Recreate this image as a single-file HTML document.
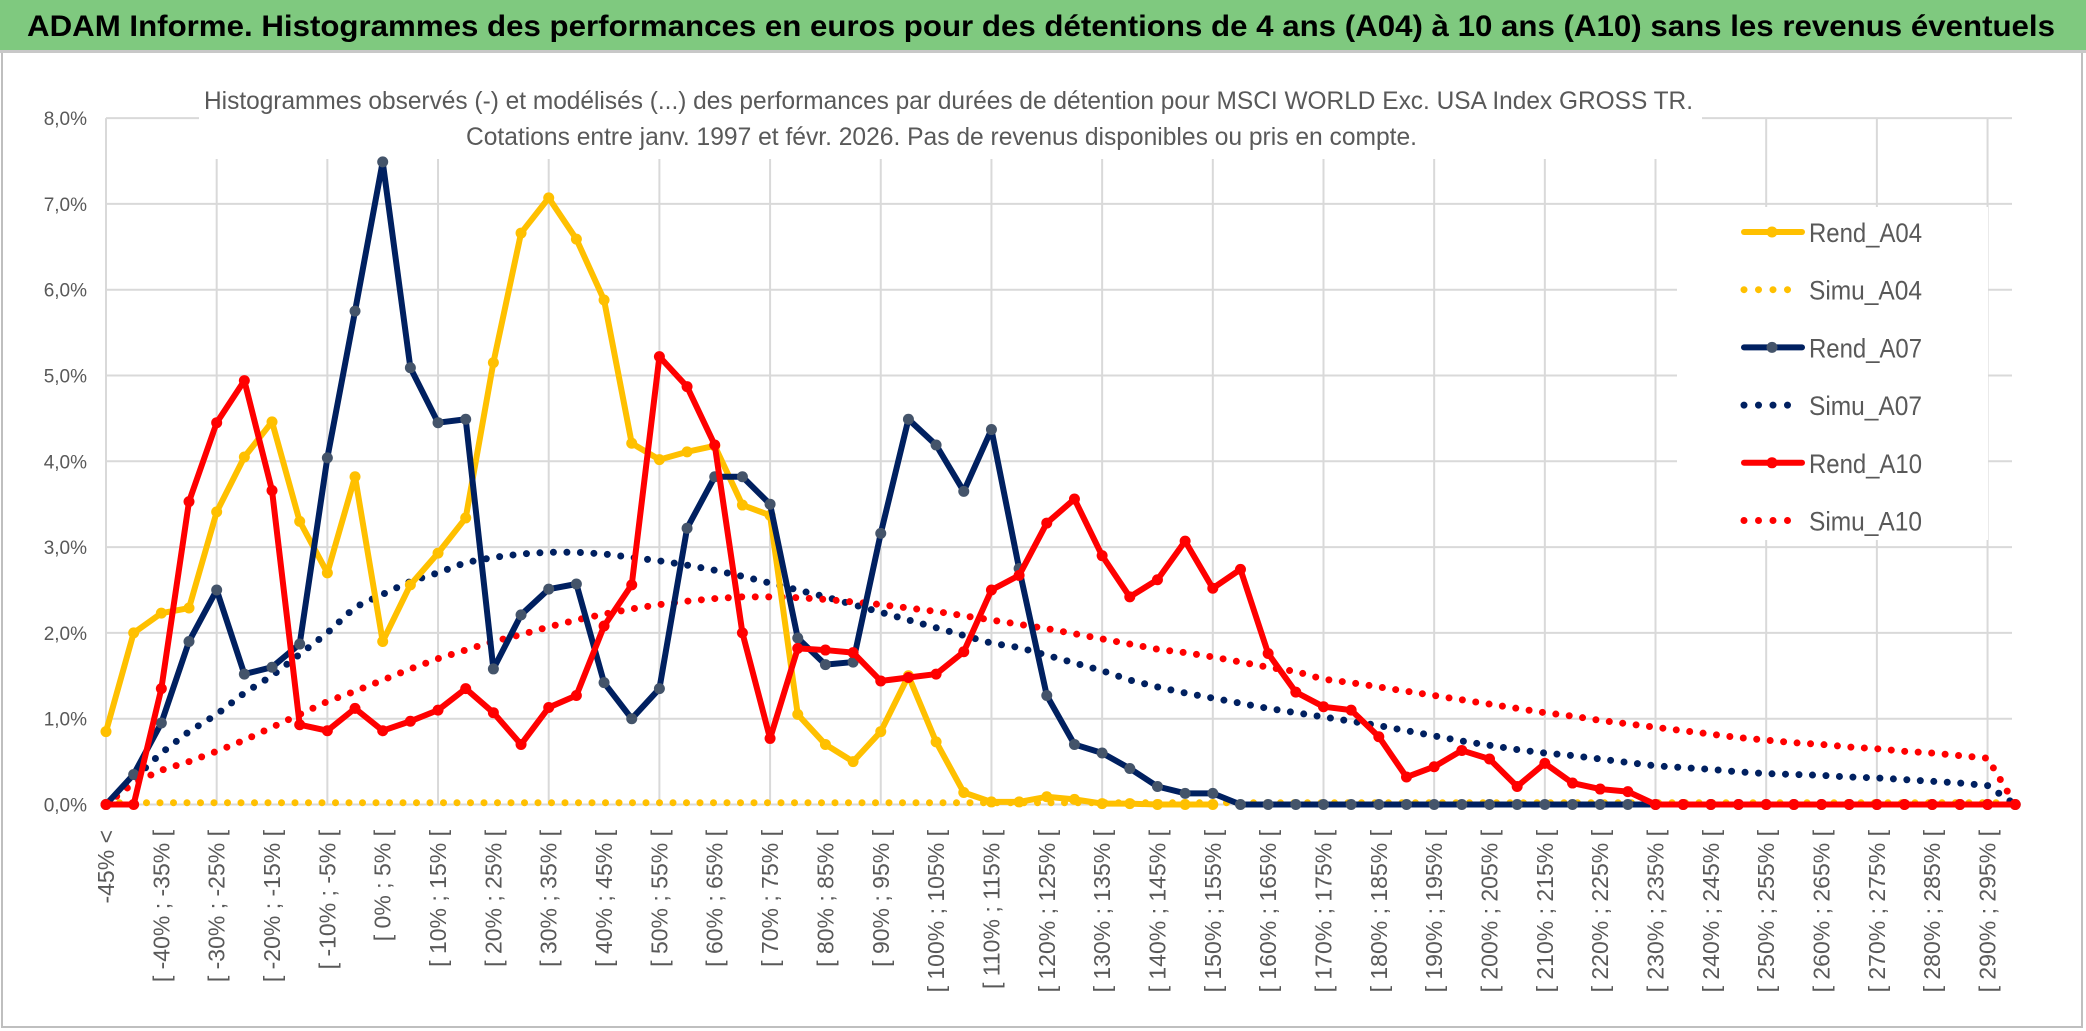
<!DOCTYPE html>
<html><head><meta charset="utf-8">
<style>
html,body{margin:0;padding:0;background:#fff;}
svg{display:block;}
text{font-family:"Liberation Sans",sans-serif;}
</style></head>
<body>
<svg id="chart" width="2086" height="1031" viewBox="0 0 2086 1031" xmlns="http://www.w3.org/2000/svg">
  <rect x="0" y="0" width="2086" height="1031" fill="#fff"/>
  <rect x="2" y="2" width="2080" height="1025" fill="none" stroke="#bfbfbf" stroke-width="2"/>
  <rect x="0" y="0" width="2086" height="50" fill="#7fc97f"/>
  <line x1="0" y1="51.5" x2="2086" y2="51.5" stroke="#c8c8c8" stroke-width="3"/>
  <text x="27" y="36" font-size="30" font-weight="bold" fill="#000" textLength="2028" lengthAdjust="spacingAndGlyphs">ADAM Informe. Histogrammes des performances en euros pour des détentions de 4 ans (A04) à 10 ans (A10) sans les revenus éventuels</text>
  <g id="grid"></g>
  <rect x="199" y="60" width="1503" height="99" fill="#fff"/>
  <text x="204" y="109" font-size="25" fill="#595959" textLength="1489" lengthAdjust="spacingAndGlyphs">Histogrammes observés (-) et modélisés (...) des performances par durées de détention pour MSCI WORLD Exc. USA Index GROSS TR.</text>
  <text x="466" y="145" font-size="25" fill="#595959" textLength="951" lengthAdjust="spacingAndGlyphs">Cotations entre janv. 1997 et févr. 2026. Pas de revenus disponibles ou pris en compte.</text>
  <g id="yaxis"></g>
  <g id="xaxis"></g>
  <g id="series"></g>
  <g id="legend"></g>
</svg>
<script>
const yTicks = [0,1,2,3,4,5,6,7,8];
const yTickLabels = ["0,0%","1,0%","2,0%","3,0%","4,0%","5,0%","6,0%","7,0%","8,0%"];
const categories = (function(){const a=["-45% <"];for(let i=1;i<70;i++){const lo=-45+5*(i-1);a.push("[ "+lo+"% ; "+(lo+5)+"% [");}return a;})();
const rendA04 = [0.85,2.0,2.23,2.29,3.41,4.05,4.46,3.30,2.70,3.82,1.90,2.56,2.93,3.34,5.15,6.66,7.07,6.59,5.88,4.21,4.02,4.11,4.18,3.49,3.37,1.05,0.70,0.50,0.85,1.50,0.73,0.14,0.03,0.03,0.09,0.06,0.01,0.01,0.0,0.0,0.0];
const simuA04 = new Array(70).fill(0.02);
const rendA07 = [0.0,0.35,0.95,1.90,2.50,1.52,1.60,1.87,4.04,5.75,7.49,5.09,4.45,4.49,1.58,2.21,2.51,2.57,1.42,1.0,1.35,3.22,3.82,3.82,3.50,1.94,1.63,1.66,3.16,4.49,4.19,3.65,4.37,2.75,1.27,0.70,0.60,0.42,0.21,0.13,0.13,0,0,0,0,0,0,0,0,0,0,0,0,0,0,0,0,0,0,0,0,0,0,0,0,0,0,0,0,0];
const simuA07 = [0,0.3,0.6,0.85,1.05,1.3,1.5,1.75,2.0,2.3,2.45,2.6,2.7,2.82,2.88,2.92,2.94,2.94,2.92,2.88,2.84,2.79,2.73,2.66,2.58,2.5,2.42,2.33,2.24,2.15,2.06,1.97,1.88,1.83,1.74,1.65,1.56,1.45,1.37,1.30,1.24,1.18,1.12,1.07,1.02,0.97,0.92,0.86,0.80,0.74,0.69,0.64,0.60,0.57,0.53,0.49,0.45,0.43,0.41,0.38,0.36,0.35,0.34,0.32,0.31,0.29,0.27,0.25,0.22,0];
const rendA10 = [0,0,1.35,3.53,4.45,4.94,3.66,0.93,0.86,1.12,0.86,0.97,1.10,1.35,1.07,0.70,1.13,1.27,2.08,2.56,5.22,4.87,4.19,2.0,0.77,1.82,1.80,1.77,1.44,1.48,1.52,1.78,2.50,2.67,3.28,3.56,2.90,2.42,2.62,3.07,2.52,2.74,1.76,1.31,1.14,1.10,0.79,0.32,0.44,0.63,0.53,0.21,0.48,0.25,0.18,0.15,0,0,0,0,0,0,0,0,0,0,0,0,0,0];
const simuA10 = [0,0.25,0.4,0.5,0.62,0.75,0.9,1.05,1.2,1.32,1.45,1.58,1.7,1.8,1.9,1.98,2.07,2.15,2.22,2.28,2.33,2.37,2.4,2.42,2.42,2.41,2.39,2.36,2.33,2.29,2.25,2.2,2.15,2.1,2.05,1.99,1.93,1.87,1.81,1.77,1.72,1.66,1.60,1.55,1.46,1.42,1.37,1.32,1.27,1.22,1.17,1.12,1.07,1.03,0.98,0.94,0.90,0.86,0.82,0.78,0.75,0.72,0.70,0.67,0.65,0.62,0.60,0.57,0.54,0];

const NS="http://www.w3.org/2000/svg";
const X0=106, DX=27.67, Y0=804.5, DY=85.8, XR=2012;
function xs(i){return X0+DX*i;}
function ys(v){return Y0-DY*v;}
function mk(tag,attrs,parent){const e=document.createElementNS(NS,tag);for(const k in attrs)e.setAttribute(k,attrs[k]);parent.appendChild(e);return e;}

const grid=document.getElementById('grid');
yTicks.forEach((t,k)=>{
  const l=mk('line',{x1:X0,x2:XR,y1:ys(t),y2:ys(t),stroke:'#d9d9d9','stroke-width':2},grid);
  
  
});
for(let i=0;i<70;i+=4){
  const l=mk('line',{x1:xs(i),x2:xs(i),y1:ys(8),y2:Y0,stroke:'#d9d9d9','stroke-width':2},grid);
  
  
}

const yaxis=document.getElementById('yaxis');
yTicks.forEach((t,k)=>{
  const tx=mk('text',{x:87,y:ys(t)+7,'font-size':19,fill:'#595959','text-anchor':'end'},yaxis);
  tx.textContent=yTickLabels[k];
  
  
});

const xaxis=document.getElementById('xaxis');
categories.forEach((c,i)=>{
  if(i%2!==0) return;
  const x=xs(i)+8, y=830;
  const tx=mk('text',{x:x,y:y,'font-size':23,fill:'#595959','text-anchor':'end',transform:'rotate(-90 '+x+' '+y+')'},xaxis);
  tx.textContent=c;
  
  
});

const series=document.getElementById('series');
function drawDotted(vals,color,name){
  const pts=vals.map((v,i)=>xs(i)+','+ys(v)).join(' ');
  const p=mk('polyline',{points:pts,fill:'none',stroke:color,'stroke-width':7,'stroke-linecap':'round','stroke-dasharray':'0 13.5'},series);
  
  
}
function drawSolid(vals,color,mcolor,name){
  const g=mk('g',{},series);
  
  
  const pts=vals.map((v,i)=>xs(i)+','+ys(v)).join(' ');
  mk('polyline',{points:pts,fill:'none',stroke:color,'stroke-width':6,'stroke-linejoin':'round','stroke-linecap':'round'},g);
  vals.forEach((v,i)=>{
    const c=mk('circle',{cx:xs(i),cy:ys(v),r:5.5,fill:mcolor},g);
    
    
  });
}
drawDotted(simuA04,'#ffc000','simu-a04-line');
drawDotted(simuA07,'#002060','simu-a07-line');
drawDotted(simuA10,'#ff0000','simu-a10-line');
drawSolid(rendA04,'#ffc000','#ffc000','rend-a04-line');
drawSolid(rendA07,'#002060','#44546a','rend-a07-line');
drawSolid(rendA10,'#ff0000','#ff0000','rend-a10-line');

const legend=document.getElementById('legend');
mk('rect',{x:1677,y:207,width:311,height:333,fill:'#fff'},legend);
const legNames=["Rend_A04","Simu_A04","Rend_A07","Simu_A07","Rend_A10","Simu_A10"];
const legColors=["#ffc000","#ffc000","#002060","#002060","#ff0000","#ff0000"];
const legMarker=["#ffc000",null,"#44546a",null,"#ff0000",null];
legNames.forEach((n,k)=>{
  const y=232+57.7*k;
  const g=mk('g',{},legend);
  
  
  if(legMarker[k]){
    mk('line',{x1:1744,x2:1802,y1:y,y2:y,stroke:legColors[k],'stroke-width':6,'stroke-linecap':'round'},g);
    mk('circle',{cx:1772,cy:y,r:5.5,fill:legMarker[k]},g);
  } else {
    mk('line',{x1:1744,x2:(k===5?1800:1789),y1:y,y2:y,stroke:legColors[k],'stroke-width':7,'stroke-linecap':'round','stroke-dasharray':'0 14.5'},g);
  }
  const t=mk('text',{x:1809,y:y+10,'font-size':27,fill:'#595959',textLength:113,lengthAdjust:'spacingAndGlyphs'},g);
  t.textContent=n;
});
</script>
</body></html>
